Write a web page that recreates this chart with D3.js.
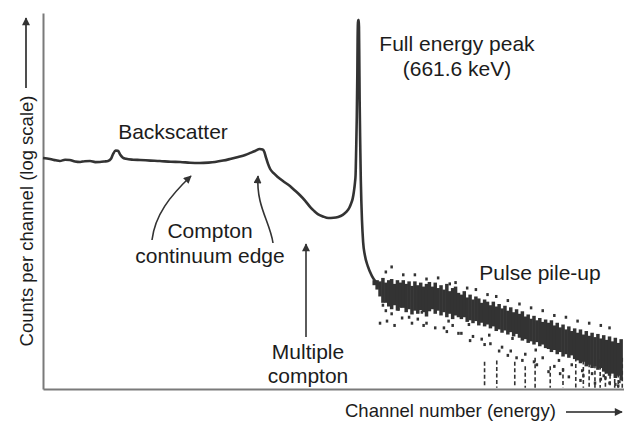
<!DOCTYPE html>
<html><head><meta charset="utf-8">
<script src="https://cdn.jsdelivr.net/npm/d3@7"></script>
<style>
body{margin:0;background:#fff}
svg{display:block}
text{font-family:"Liberation Sans",Arial,Helvetica,sans-serif;fill:#1c1c1c}
</style>
</head><body>
<svg id="chart" width="624" height="422"></svg>
<script>
// ---- data (channel number, counts per channel) ----
const mainChannels = [0,12,22,29,38,46,55,64,72,81,90,98,106,112,117,121,125,129,133,137,143,155,167,185,201,220,236,253,270,285,296,310,322,336,348,358,365,373,378,381,384,387,391,397,404,414,425,433,442,451,460,467,473,482,491,500,508,516,522,527,530,533,535,537,538,539,540,541,541.5,542.3,543.6,544.3,545,546,547,548,549,551,554,559,566,572,580];
const mainCounts   = [1180,1145,1100,1076,1120,1110,1060,1044,1070,1076,1040,1044,1060,1076,1150,1350,1480,1470,1300,1200,1150,1120,1110,1090,1076,1050,1044,1020,1012,1025,1044,1090,1145,1220,1295,1390,1462,1554,1530,1420,1180,1000,843,740,659,575,500,440,380,320,263,232,212,197,188,189,194,207,226,255,288,340,417,560,701,1500,3776,15000,43700,80700,80700,30000,6970,1800,601,300,177,90,60,43,32,27,23];

// pulse pile-up band: one channel group every 5 channels from 570
const bandStart = 570, bandStep = 5;
const bandHigh = [28,28,27,30,26,28,29,25,28,26,
                  28,25,27,23.5,27,24,26,23,25,26.5,
                  23,26,22,24,21,25,20,22,23,19,
                  18,20,16.5,18,15.5,17,16,14,15.5,14.5,
                  13,14.5,12.5,13.5,11.8,12.8,11,12.2,10.5,11.5,
                  10,10.8,9.2,9.8,8.6,9.4,8.2,8.8,7.8,8.4,
                  7.6,8.2,7,7.6,6.6,7.2,6.2,6.8,5.9,6.4,
                  5.6,6.2,5.3,5.9,5.1,5.6,4.9,5.4,4.7,5.2,
                  4.5,5,4.3,4.8,4.1,4.6];
const bandLow  = [24,21,17,14,14,12.5,11.5,13,11,12,
                  12,10.5,11.5,9.8,11,10,11.2,10.5,9.2,10.8,
                  11.5,10,11,9.5,10.5,9,10,8.5,9.5,9,
                  8.5,9,7.8,8.2,7.5,8,7,7.6,6.8,7.2,
                  6.4,6.8,5.9,6.2,5.6,6,5.3,5.7,5,5.4,
                  4.8,4.4,4.6,4.1,4.3,3.9,4.2,3.7,3.9,3.5,
                  3.4,3.1,3.3,2.9,3.1,2.7,2.9,2.6,2.8,2.5,
                  2.4,2.2,2.3,2,2.1,1.9,2,1.8,1.9,1.7,
                  1.6,1.5,1.6,1.4,1.5,1.3];

// scattered counts around the band
const scatterChannels = [590,600,630,645,660,690,705,720,740,755,770,790,805,815,830,845,860,880,895,910,930,945,960,975,985,
                         600,640,680,710,745,780,820,860,900,940,975,
                         585,612,652,698,733,768,808,848,888,928,968,992,
                         580,592,605,618,635,655,675,695,715,735,760,785,800,825,850,870,890,905,925,950,965,990,
                         590,620,660,700,730,765,800,840,880,920,960];
const scatterCounts   = [11,10,9,8.5,7.5,6.5,7,5.5,5,4.6,4,3.6,3.2,2.6,2.9,2.3,2.6,2,1.8,2.1,1.5,1.6,1.35,1.2,1.15,
                         42,33,30,26,21,17,13.5,11,9,7.5,6.5,
                         13,11.5,10.5,8,7.2,5.2,4.7,3.3,2.4,1.75,1.4,1.25,
                         7.5,8,7,8.8,7.5,7,6.5,5.8,5.5,4.4,3.9,3.2,2.8,2.4,2.1,1.7,1.6,1.45,1.3,1.2,1.5,1.1,
                         36,33,29,25,22,18,15,12,9.5,8,7];

// sparse streaks reaching down to the baseline
const streakChannels = [760,781,812,830,847,873,895,917,930,940,950,959,968,976,984,990,997];
const streakCounts   = [2.3,2.4,2.3,2.0,2.6,2.0,1.9,3.2,2.4,2.2,2.6,2.5,2.2,2.8,3.0,2.4,2.6];

const yTitle = "Counts per channel (log scale)";
const xTitle = "Channel number (energy)";

// ---- scales ----
const x = d3.scaleLinear().domain([0,1000]).range([43,624]);
const y = d3.scaleLog().domain([1,1e5]).range([389,13]);

const svg = d3.select("#chart");
const ink = "#333";

const defs = svg.append("defs");
defs.append("marker").attr("id","ah").attr("viewBox","0 0 10 10")
  .attr("refX",9).attr("refY",5).attr("markerWidth",9).attr("markerHeight",8)
  .attr("markerUnits","userSpaceOnUse").attr("orient","auto")
  .append("path").attr("d","M0,0 L10,5 L0,10 Z").attr("fill",ink);

// axes (no ticks)
svg.append("g").attr("transform","translate(0,389)")
  .call(d3.axisBottom(x).tickValues([]).tickSizeOuter(0));
svg.append("g").attr("transform","translate(43,0)")
  .call(d3.axisLeft(y).tickValues([]).tickSizeOuter(0));
svg.selectAll(".domain").attr("stroke","#7a7a7a").attr("stroke-width",2);

// streaks
svg.append("g").selectAll("line").data(streakChannels).join("line")
  .attr("x1",d=>x(d)).attr("x2",d=>x(d))
  .attr("y1",(d,i)=>y(streakCounts[i])).attr("y2",y(1.04))
  .attr("stroke",ink).attr("stroke-width",1.6).attr("stroke-dasharray","4,2.5");

// band
const bandCh = bandHigh.map((_,i)=>bandStart+i*bandStep);
svg.append("g").selectAll("rect").data(bandCh).join("rect")
  .attr("x",d=>x(d)-1.7).attr("width",3.5)
  .attr("y",(d,i)=>y(bandHigh[i]))
  .attr("height",(d,i)=>y(bandLow[i])-y(bandHigh[i]))
  .attr("fill",ink);

// scatter
svg.append("g").selectAll("rect").data(scatterChannels).join("rect")
  .attr("x",d=>x(d)-1.2).attr("width",2.5)
  .attr("y",(d,i)=>y(scatterCounts[i])-1.5).attr("height",3)
  .attr("fill",ink);

// main spectrum line
const pts = mainChannels.map((c,i)=>[c,mainCounts[i]]);
svg.append("path").datum(pts)
  .attr("d",d3.line().x(d=>x(d[0])).y(d=>y(d[1])).curve(d3.curveMonotoneX))
  .attr("fill","none").attr("stroke",ink).attr("stroke-width",2.6)
  .attr("stroke-linejoin","round");

// annotation arrows
const arrows = [
  "M152,240 C155,215 170,196 191,176",
  "M273,243 C270,222 256,206 258,176",
  "M306,337 L306,244"
];
svg.append("g").selectAll("path").data(arrows).join("path")
  .attr("d",d=>d).attr("fill","none").attr("stroke",ink).attr("stroke-width",1.6)
  .attr("marker-end","url(#ah)");

// annotation text
const notes = [
  {t:"Backscatter", x:173, y:139},
  {t:"Full energy peak", x:457, y:51},
  {t:"(661.6 keV)", x:457, y:76},
  {t:"Compton", x:210, y:238},
  {t:"continuum edge", x:210, y:263},
  {t:"Multiple", x:308, y:359},
  {t:"compton", x:308, y:383},
  {t:"Pulse pile-up", x:540, y:280}
];
svg.append("g").selectAll("text").data(notes).join("text")
  .attr("x",d=>d.x).attr("y",d=>d.y).attr("text-anchor","middle")
  .attr("font-size",21).text(d=>d.t);

// axis titles with arrows
svg.append("text").attr("transform","translate(33,221) rotate(-90)")
  .attr("text-anchor","middle").attr("font-size",18.5).text(yTitle);
svg.append("path").attr("d","M26,88 L26,18").attr("stroke","#222").attr("stroke-width",1.6)
  .attr("marker-end","url(#ah)");
svg.append("text").attr("x",345).attr("y",417).attr("font-size",18.5).text(xTitle);
svg.append("path").attr("d","M566,412 L622,412").attr("stroke","#222").attr("stroke-width",1.6)
  .attr("marker-end","url(#ah)");
</script>
</body></html>
